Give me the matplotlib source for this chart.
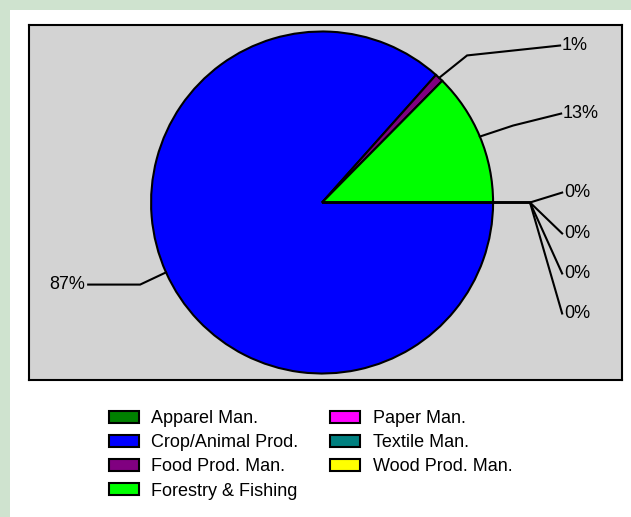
import matplotlib.pyplot as plt
from matplotlib.patches import Rectangle
import numpy as np

plt.rcParams['font.family'] = ['Liberation Sans', 'DejaVu Sans']

# data
categories = ['Apparel Man.', 'Crop/Animal Prod.', 'Food Prod. Man.', 'Forestry & Fishing',
              'Paper Man.', 'Textile Man.', 'Wood Prod. Man.']
shares = [0.0, 86.6, 0.8, 12.6, 0.0, 0.0, 0.0]
colors = ['#008000', '#0000ff', '#800080', '#00ff00', '#ff00ff', '#008080', '#ffff00']

# label layout (elbow, end) in pie radius units
label_layout = {
    'Apparel Man.': ((1.216, 0.0), (1.404, 0.058)),
    'Crop/Animal Prod.': ((-1.064, -0.480), (-1.368, -0.480)),
    'Food Prod. Man.': ((0.848, 0.860), (1.392, 0.918)),
    'Forestry & Fishing': ((1.117, 0.450), (1.398, 0.520)),
    'Paper Man.': ((1.216, 0.0), (1.404, -0.181)),
    'Textile Man.': ((1.216, 0.0), (1.404, -0.415)),
    'Wood Prod. Man.': ((1.216, 0.0), (1.404, -0.649)),
}

fig = plt.figure(figsize=(6.31, 5.17), dpi=100)
fig.patch.set_facecolor('#cfe3cf')
fig.patches.append(Rectangle((10 / 631, 0), 1, 1 - 10 / 517, transform=fig.transFigure,
                             facecolor='white', edgecolor='none', zorder=-1))

ax = fig.add_axes([29 / 631, (517 - 380) / 517, 593 / 631, 355 / 517])
wedges, _ = ax.pie(shares, colors=colors, startangle=0, counterclock=False,
                   wedgeprops=dict(edgecolor='black', linewidth=1.5))

for w, name, val in zip(wedges, categories, shares):
    mid = np.deg2rad((w.theta1 + w.theta2) / 2)
    sx, sy = np.cos(mid), np.sin(mid)
    (ex, ey), (tx, ty) = label_layout[name]
    ax.plot([sx, ex, tx], [sy, ey, ty], color='black', lw=1.5, solid_joinstyle='miter')
    if tx < 0:
        ax.text(tx - 0.02, ty, '%.0f%%' % val, ha='right', va='center', fontsize=13)
    else:
        ax.text(tx + 0.01, ty, '%.0f%%' % val, ha='left', va='center', fontsize=13)

ax.set_aspect('auto')
ax.set_xlim(-1.714, 1.754)
ax.set_ylim(-1.038, 1.038)
ax.set_frame_on(True)
ax.set_facecolor('#d3d3d3')
for s in ax.spines.values():
    s.set_color('black')
    s.set_linewidth(1.5)

fig.legend(wedges, categories, ncol=2, frameon=False, fontsize=13,
           loc='upper left', bbox_to_anchor=(100 / 631, 1 - 401 / 517),
           handlelength=1.65, handleheight=0.65, handletextpad=0.7,
           labelspacing=0.4, columnspacing=1.75, borderpad=0)

fig.savefig('out.png', dpi=100)
